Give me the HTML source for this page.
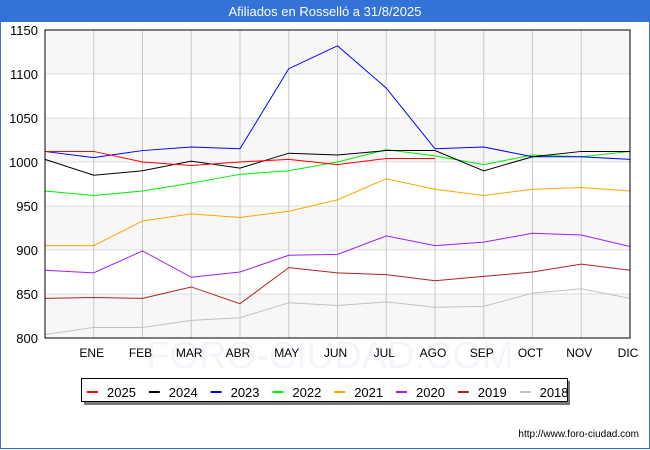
<!DOCTYPE html>
<html><head><meta charset="utf-8"><style>
body{margin:0;background:#fff;font-family:"Liberation Sans","DejaVu Sans",sans-serif}
#wrap{position:relative;width:648px;height:448px;border:1px solid #3373d8;border-top:none;}
</style></head><body>
<div id="wrap">
<svg id="c" width="650" height="450" style="position:absolute;left:-1px;top:0"></svg>
</div>
<script>
const months=["","ENE","FEB","MAR","ABR","MAY","JUN","JUL","AGO","SEP","OCT","NOV","DIC"];
const yTicks=[800,850,900,950,1000,1050,1100,1150];
const years=["2025","2024","2023","2022","2021","2020","2019","2018"];
const colors=["#ff0000","#000000","#0000ff","#00ee00","#ffa500","#a020f0","#b22222","#c0c0c0"];
const s2025=[1012,1012,1000,996,1000,1003,997,1004,1004];
const s2024=[1003,985,990,1001,993,1010,1008,1013,1013,990,1006,1012,1012];
const s2023=[1012,1005,1013,1017,1015,1106,1132,1084,1015,1017,1006,1006,1003];
const s2022=[967,962,967,976,986,990,1000,1014,1007,997,1008,1006,1012];
const s2021=[905,905,933,941,937,944,957,981,969,962,969,971,967];
const s2020=[877,874,899,869,875,894,895,916,905,909,919,917,904];
const s2019=[845,846,845,858,839,880,874,872,865,870,875,884,877];
const s2018=[804,812,812,820,823,840,837,841,835,836,851,856,845];
const series=[s2025,s2024,s2023,s2022,s2021,s2020,s2019,s2018];
const L=45,R=630,T=30,B=338;
const X=i=>L+i*(R-L)/12, Y=v=>B-(v-800)*(B-T)/350;
const svg=document.getElementById('c');const NS="http://www.w3.org/2000/svg";
function mk(t,a,p){const e=document.createElementNS(NS,t);for(const k in a)e.setAttribute(k,a[k]);(p||svg).appendChild(e);return e;}
let e;
e=mk('rect',{x:0,y:0,width:650,height:22,fill:'#3373d8'});


e=mk('text',{x:325,y:16,'text-anchor':'middle',fill:'#fff','font-size':13});e.textContent='Afiliados en Rosselló a 31/8/2025';


for(let k=0;k<7;k+=2){e=mk('rect',{x:L,y:Y(yTicks[k+1]),width:R-L,height:Y(yTicks[k])-Y(yTicks[k+1]),fill:'#f7f7f7'});

}
e=mk('text',{x:330,y:368,'text-anchor':'middle','font-size':38,fill:'#f4f5fb'});e.textContent='FORO-CIUDAD.COM';


yTicks.forEach(v=>{e=mk('line',{x1:L,x2:R,y1:Y(v),y2:Y(v),stroke:'#ddd'});


e=mk('text',{x:L-7,y:Y(v)+5,'text-anchor':'end','font-size':13,fill:'#000'});e.textContent=v;

});
months.forEach((m,i)=>{if(i>0){e=mk('line',{x1:X(i),x2:X(i),y1:T,y2:B,stroke:'#c8c8c8'});


e=mk('text',{x:X(i)-2,y:357,'text-anchor':'middle','font-size':12});e.textContent=m;

}});
for(let k=series.length-1;k>=0;k--){e=mk('polyline',{points:series[k].map((v,i)=>X(i)+','+Y(v)).join(' '),fill:'none',stroke:colors[k],'stroke-width':1});

}
e=mk('rect',{x:L,y:T,width:R-L,height:B-T,fill:'none',stroke:'#000'});


e=mk('rect',{x:84,y:381,width:486,height:24,fill:'#777'});


e=mk('rect',{x:81.5,y:378.5,width:486,height:23,fill:'#fff',stroke:'#000'});


years.forEach((y,k)=>{const x0=87+k*61.8;
e=mk('line',{x1:x0,x2:x0+11,y1:392,y2:392,stroke:colors[k],'stroke-width':2});


e=mk('text',{x:x0+20,y:397,'font-size':13});e.textContent=y;

});
e=mk('text',{x:639,y:437,'text-anchor':'end','font-size':10});e.textContent='http://www.foro-ciudad.com';


</script>
</body></html>
